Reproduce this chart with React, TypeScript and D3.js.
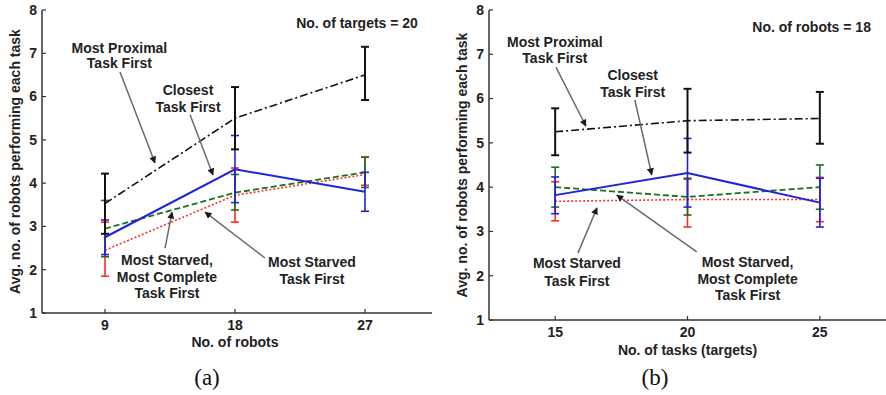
import React from "react";
import * as d3 from "d3";

// x categories
const robots = [9, 18, 27];
const tasks = [15, 20, 25];
const yTicks = [1, 2, 3, 4, 5, 6, 7, 8];

// panel (a): varying no. of robots, 20 targets
const mpA = [3.53, 5.5, 6.5];
const mpALo = [2.83, 4.78, 5.92];
const mpAHi = [4.22, 6.22, 7.15];
const ctA = [2.75, 4.32, 3.8];
const ctALo = [2.35, 3.55, 3.35];
const ctAHi = [3.15, 5.1, 4.25];
const msA = [2.45, 3.72, 4.2];
const msALo = [1.85, 3.1, 3.95];
const msAHi = [3.1, 4.35, 4.6];
const mcA = [2.95, 3.78, 4.25];
const mcALo = [2.3, 3.38, 3.9];
const mcAHi = [3.6, 4.2, 4.6];

// panel (b): varying no. of tasks, 18 robots
const mpB = [5.25, 5.5, 5.55];
const mpBLo = [4.72, 4.78, 4.98];
const mpBHi = [5.78, 6.22, 6.15];
const ctB = [3.82, 4.32, 3.65];
const ctBLo = [3.4, 3.55, 3.1];
const ctBHi = [4.23, 5.1, 4.2];
const msB = [3.68, 3.72, 3.72];
const msBLo = [3.24, 3.1, 3.22];
const msBHi = [4.12, 4.18, 4.22];
const mcB = [4.0, 3.78, 4.0];
const mcBLo = [3.55, 3.37, 3.5];
const mcBHi = [4.45, 4.2, 4.5];

const styles = {
  ms: { color: "#ff2a2a", dash: "2,2", width: 1.6, barW: 1.6 },
  mc: { color: "#1d6e1d", dash: "6,3", width: 1.8, barW: 1.6 },
  ct: { color: "#2222d8", dash: null, width: 2, barW: 1.6 },
  mp: { color: "#111111", dash: "8,3,2,3", width: 1.6, barW: 2 },
};

type Ann = { lines: string[]; tx: number; ty: number[]; from?: [number, number]; to?: [number, number] };

const annA: Ann[] = [
  { lines: ["Most Proximal", "Task First"], tx: 10, ty: [7.12, 6.78], from: [10.04, 6.57], to: [12.46, 4.47] },
  { lines: ["Closest", "Task First"], tx: 14.75, ty: [6.15, 5.76], from: [14.89, 5.58], to: [16.48, 4.19] },
  { lines: ["Most Starved,", "Most Complete", "Task First"], tx: 13.29, ty: [2.23, 1.84, 1.46], from: [13.16, 2.5], to: [13.64, 3.33] },
  { lines: ["Most Starved", "Task First"], tx: 23.33, ty: [2.18, 1.79], from: [20.08, 2.27], to: [15.93, 3.33] },
  { lines: ["No. of targets = 20"], tx: 26.45, ty: [7.7] },
];

const annB: Ann[] = [
  { lines: ["Most Proximal", "Task First"], tx: 14.99, ty: [7.28, 6.92], from: [15.03, 6.71], to: [16.16, 5.38] },
  { lines: ["Closest", "Task First"], tx: 17.93, ty: [6.53, 6.15], from: [18.01, 5.97], to: [18.65, 4.28] },
  { lines: ["Most Starved", "Task First"], tx: 15.82, ty: [2.29, 1.88], from: [15.86, 2.51], to: [16.58, 3.53] },
  { lines: ["Most Starved,", "Most Complete", "Task First"], tx: 22.27, ty: [2.31, 1.93, 1.57], from: [20.35, 2.54], to: [17.33, 3.82] },
  { lines: ["No. of robots = 18"], tx: 24.69, ty: [7.62] },
];

const font = "'Liberation Sans', Arial, sans-serif";

type PanelProps = {
  xs: number[];
  xDomain: [number, number];
  xRange: [number, number];
  yRange: [number, number];
  series: { key: keyof typeof styles; v: number[]; lo: number[]; hi: number[] }[];
  ann: Ann[];
  xLabel: string;
  xLabelY: number;
  tickY: number;
  yLabelX: number;
  caption: string;
  captionX: number;
};

const Panel = (p: PanelProps) => {
  const x = d3.scaleLinear().domain(p.xDomain).range(p.xRange);
  const y = d3.scaleLinear().domain([1, 8]).range(p.yRange);
  const line = d3
    .line<number>()
    .x((_, i) => x(p.xs[i]))
    .y((d) => y(d));
  const axisColor = "#333";
  return (
    <g>
      {/* series: error bars + lines */}
      {p.series.map((s) => {
        const st = styles[s.key];
        return (
          <g key={s.key}>
            {p.xs.map((xv, i) => (
              <g key={i} stroke={st.color} strokeWidth={st.barW}>
                <line x1={x(xv)} x2={x(xv)} y1={y(s.lo[i])} y2={y(s.hi[i])} />
                <line x1={x(xv) - 4} x2={x(xv) + 4} y1={y(s.lo[i])} y2={y(s.lo[i])} />
                <line x1={x(xv) - 4} x2={x(xv) + 4} y1={y(s.hi[i])} y2={y(s.hi[i])} />
              </g>
            ))}
            <path
              d={line(s.v) || ""}
              fill="none"
              stroke={st.color}
              strokeWidth={st.width}
              strokeDasharray={st.dash || undefined}
            />
          </g>
        );
      })}
      {/* axes */}
      <line x1={p.xRange[0]} x2={p.xRange[0]} y1={y(1)} y2={y(8)} stroke={axisColor} strokeWidth={1.5} />
      <line x1={p.xRange[0]} x2={p.xRange[1]} y1={y(1)} y2={y(1)} stroke={axisColor} strokeWidth={1.5} />
      {yTicks.map((t) => (
        <g key={t}>
          <line x1={p.xRange[0]} x2={p.xRange[0] + 4} y1={y(t)} y2={y(t)} stroke={axisColor} strokeWidth={1.2} />
          <text
            x={p.xRange[0] - 5}
            y={y(t)}
            dy="0.35em"
            textAnchor="end"
            fontFamily={font}
            fontWeight="bold"
            fontSize={14}
            fill="#222"
          >
            {t}
          </text>
        </g>
      ))}
      {p.xs.map((t) => (
        <g key={t}>
          <line x1={x(t)} x2={x(t)} y1={y(1)} y2={y(1) - 4} stroke={axisColor} strokeWidth={1.2} />
          <text
            x={x(t)}
            y={p.tickY}
            dy="0.35em"
            textAnchor="middle"
            fontFamily={font}
            fontWeight="bold"
            fontSize={14}
            fill="#222"
          >
            {t}
          </text>
        </g>
      ))}
      <text
        x={(x(p.xs[0]) + x(p.xs[2])) / 2}
        y={p.xLabelY}
        dy="0.35em"
        textAnchor="middle"
        fontFamily={font}
        fontWeight="bold"
        fontSize={14}
        fill="#222"
      >
        {p.xLabel}
      </text>
      <text
        transform={`translate(${p.yLabelX},${(y(1) + y(8)) / 2}) rotate(-90)`}
        dy="0.35em"
        textAnchor="middle"
        fontFamily={font}
        fontWeight="bold"
        fontSize={14}
        fill="#222"
      >
        Avg. no. of robots performing each task
      </text>
      {/* annotations */}
      {p.ann.map((a, k) => (
        <g key={k}>
          {a.from && a.to && (
            <line
              x1={x(a.from[0])}
              y1={y(a.from[1])}
              x2={x(a.to[0])}
              y2={y(a.to[1])}
              stroke="#6a6a6a"
              strokeWidth={1.5}
              markerEnd="url(#arrow)"
            />
          )}
          {a.lines.map((l, j) => (
            <text
              key={j}
              x={x(a.tx)}
              y={y(a.ty[j])}
              dy="0.35em"
              textAnchor="middle"
              fontFamily={font}
              fontWeight="bold"
              fontSize={14}
              fill="#222"
            >
              {l}
            </text>
          ))}
        </g>
      ))}
      <text
        x={p.captionX}
        y={385}
        textAnchor="middle"
        fontFamily="'Liberation Serif', 'Times New Roman', serif"
        fontSize={23}
        fill="#111"
      >
        {p.caption}
      </text>
    </g>
  );
};

export default function App() {
  return (
    <svg width={886} height={395} style={{ position: "absolute", left: 0, top: 0, background: "#fff" }}>
      <defs>
        <marker id="arrow" viewBox="0 0 10 10" refX="9" refY="5" markerWidth="8" markerHeight="7" markerUnits="userSpaceOnUse" orient="auto">
          <path d="M0,0 L10,5 L0,10 z" fill="#1a1a1a" />
        </marker>
      </defs>
      <Panel
        xs={robots}
        xDomain={[4.64, 31.64]}
        xRange={[42, 432]}
        yRange={[313, 10]}
        series={[
          { key: "ms", v: msA, lo: msALo, hi: msAHi },
          { key: "mc", v: mcA, lo: mcALo, hi: mcAHi },
          { key: "ct", v: ctA, lo: ctALo, hi: ctAHi },
          { key: "mp", v: mpA, lo: mpALo, hi: mpAHi },
        ]}
        ann={annA}
        xLabel="No. of robots"
        xLabelY={342}
        tickY={325}
        yLabelX={15}
        caption="(a)"
        captionX={207}
      />
      <Panel
        xs={tasks}
        xDomain={[12.5, 27.5]}
        xRange={[489, 886]}
        yRange={[320, 10]}
        series={[
          { key: "ms", v: msB, lo: msBLo, hi: msBHi },
          { key: "mc", v: mcB, lo: mcBLo, hi: mcBHi },
          { key: "ct", v: ctB, lo: ctBLo, hi: ctBHi },
          { key: "mp", v: mpB, lo: mpBLo, hi: mpBHi },
        ]}
        ann={annB}
        xLabel="No. of tasks (targets)"
        xLabelY={350}
        tickY={332}
        yLabelX={462}
        caption="(b)"
        captionX={655}
      />
    </svg>
  );
}
